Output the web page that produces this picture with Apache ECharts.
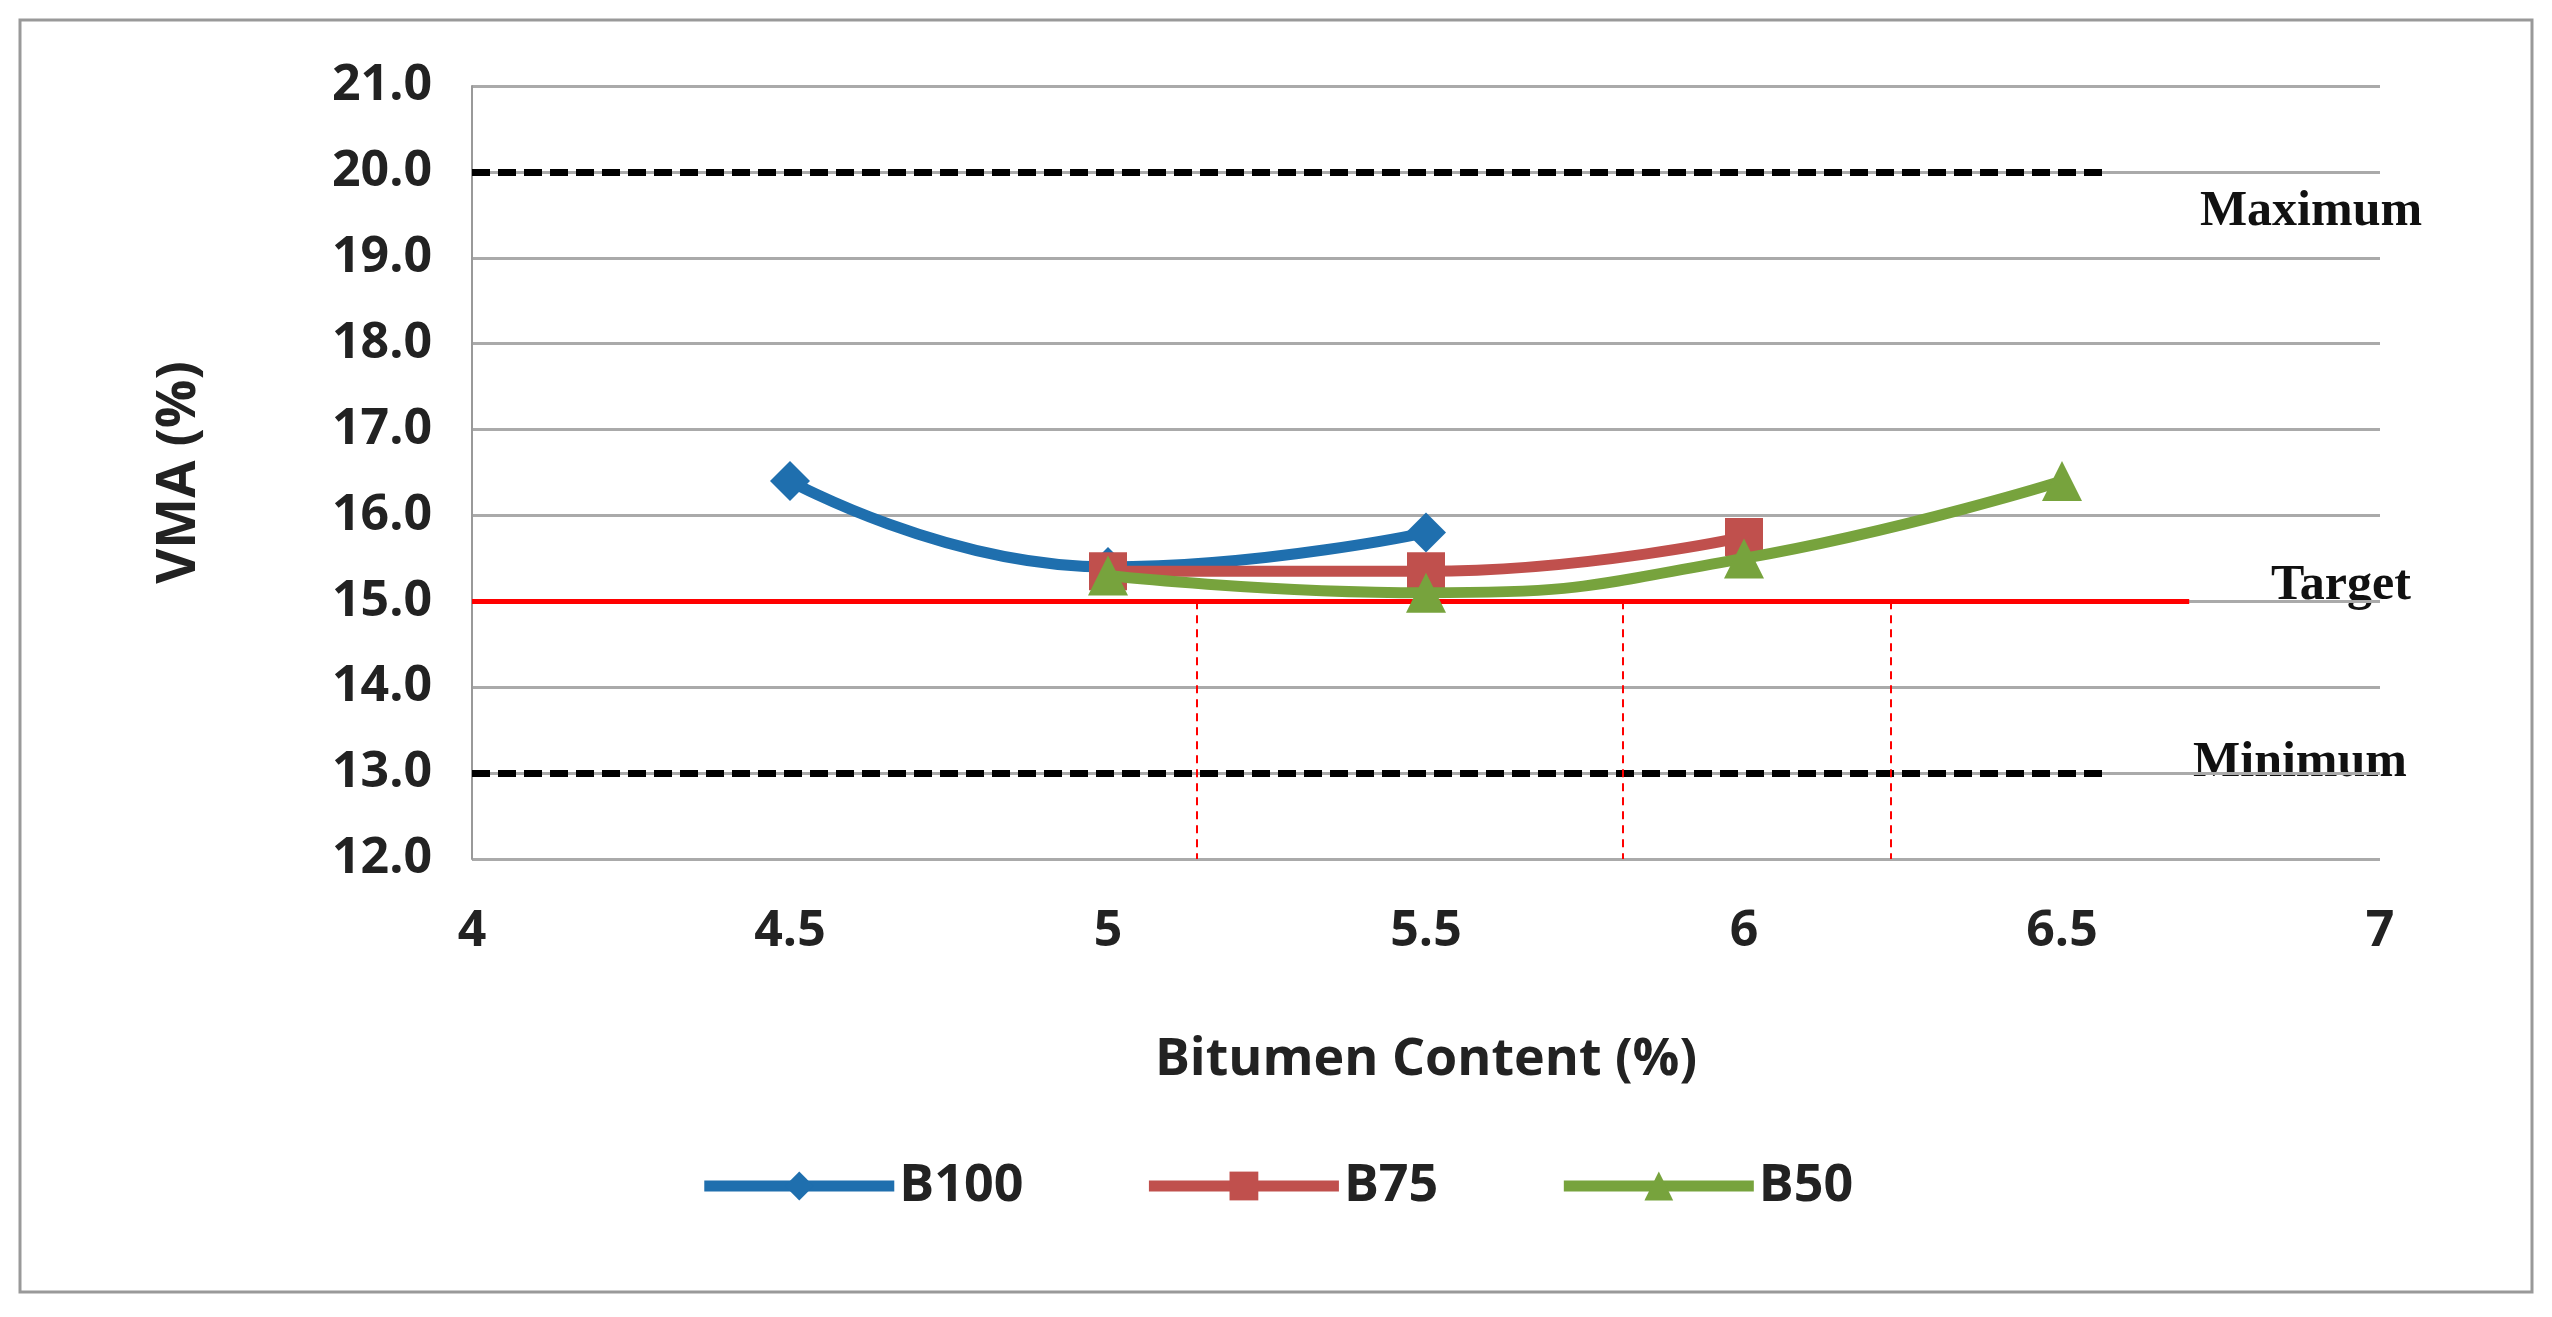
<!DOCTYPE html>
<html><head><meta charset="utf-8">
<script src="https://cdn.jsdelivr.net/npm/echarts@6/dist/echarts.min.js"></script>
<style>html,body{margin:0;background:#fff}#c{width:2552px;height:1317px}</style>
</head><body><div id="c"></div>
<script>
const b100X=[4.5,5,5.5], b100Y=[16.4,15.4,15.8];
const b75X=[5,5.5,6], b75Y=[15.35,15.35,15.75];
const b50X=[5,5.5,6,6.5], b50Y=[15.3,15.1,15.5,16.4];
const maxV=20, minV=13, targetV=15;
const guideX=[5.14,5.81,6.23];
const pairs=(xs,ys)=>xs.map((x,i)=>[x,ys[i]]);
const chart=echarts.init(document.getElementById('c'));
const lbl={fontFamily:'Open Sans',fontWeight:'bold',fontSize:50,color:'#222'};
chart.setOption({
  animation:false,
  grid:{left:472,right:172,top:86,bottom:458},
  xAxis:{type:'value',min:4,max:7,interval:0.5,
    axisLabel:Object.assign({margin:48},lbl),
    axisLine:{show:false},axisTick:{show:false},splitLine:{show:false},
    name:'Bitumen Content (%)',nameLocation:'middle',nameGap:175,
    nameTextStyle:{fontFamily:'Open Sans',fontWeight:'bold',fontSize:52,color:'#222'}},
  yAxis:{type:'value',min:12,max:21,interval:1,
    axisLabel:Object.assign({margin:40,formatter:v=>v.toFixed(1)},lbl),
    axisLine:{show:true,lineStyle:{color:'#999',width:2}},axisTick:{show:false},
    splitLine:{lineStyle:{color:'#aaa',width:3}},
    name:'VMA (%)',nameLocation:'middle',nameGap:265,
    nameTextStyle:{fontFamily:'Open Sans',fontWeight:'bold',fontSize:54,color:'#222'}},
  legend:{bottom:100,left:'center',itemWidth:190,itemHeight:36,itemGap:120,
    textStyle:{fontFamily:'Open Sans',fontWeight:'bold',fontSize:52,color:'#222'},
    lineStyle:{width:11},
    data:['B100','B75','B50']},
  graphic:[
    {type:'rect',shape:{x:20,y:20,width:2512,height:1272},style:{fill:'none',stroke:'#999',lineWidth:3}},
    {type:'text',x:2311,y:212,style:{text:'Maximum',font:'bold 50px "Liberation Serif"',fill:'#111',textAlign:'center',textVerticalAlign:'middle'}},
    {type:'text',x:2341,y:586,style:{text:'Target',font:'bold 50px "Liberation Serif"',fill:'#111',textAlign:'center',textVerticalAlign:'middle'}},
    {type:'text',x:2300,y:763,style:{text:'Minimum',font:'bold 50px "Liberation Serif"',fill:'#111',textAlign:'center',textVerticalAlign:'middle'}}
  ],
  series:[
    {name:'refs',type:'line',data:[],silent:true,
     markLine:{symbol:'none',silent:true,label:{show:false},
      data:[
        [{coord:[4,maxV],lineStyle:{color:'#000',type:[18,8],width:7}},{coord:[6.57,maxV]}],
        [{coord:[4,minV],lineStyle:{color:'#000',type:[18,8],width:7}},{coord:[6.57,minV]}],
        [{coord:[4,targetV],lineStyle:{color:'#ff0000',type:'solid',width:5}},{coord:[6.7,targetV]}],
        ...guideX.map(g=>[{coord:[g,targetV],lineStyle:{color:'#ff0000',type:[8,6],width:2}},{coord:[g,12]}])
      ]}},
    {name:'B100',type:'line',smooth:0.5,data:pairs(b100X,b100Y),symbol:'diamond',symbolSize:40,
     lineStyle:{width:11,color:'#1f6fae'},itemStyle:{color:'#1f6fae'},z:3},
    {name:'B75',type:'line',smooth:0.5,data:pairs(b75X,b75Y),symbol:'rect',symbolSize:38,
     lineStyle:{width:11,color:'#c0504d'},itemStyle:{color:'#c0504d'},z:4},
    {name:'B50',type:'line',smooth:0.5,data:pairs(b50X,b50Y),symbol:'triangle',symbolSize:40,
     lineStyle:{width:11,color:'#77a33d'},itemStyle:{color:'#77a33d'},z:5}
  ]
});
</script></body></html>
